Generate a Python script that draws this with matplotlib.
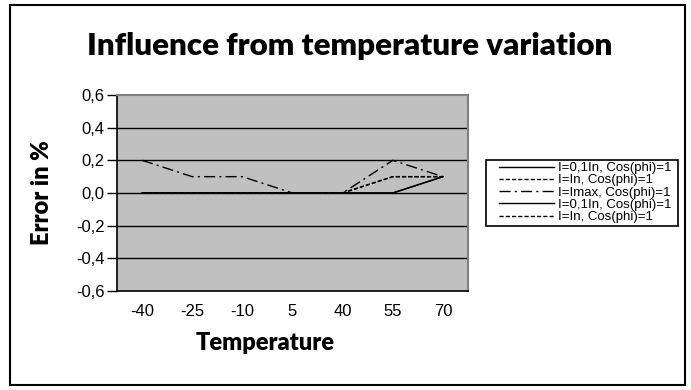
import numpy as np
import matplotlib
matplotlib.use('Agg')
import matplotlib.pyplot as plt
from matplotlib.patches import Rectangle

# Data
temperatures = ['-40', '-25', '-10', '5', '40', '55', '70']
labels = ['I=0,1In, Cos(phi)=1', 'I=In, Cos(phi)=1', 'I=Imax, Cos(phi)=1',
          'I=0,1In, Cos(phi)=1', 'I=In, Cos(phi)=1']
err_01in = [0.0, 0.0, 0.0, 0.0, 0.0, 0.0, 0.1]
err_in = [0.0, 0.0, 0.0, 0.0, 0.0, 0.1, 0.1]
err_imax = [0.2, 0.1, 0.1, 0.0, 0.0, 0.2, 0.1]
err_01in_b = [0.0, 0.0, 0.0, 0.0, 0.0, 0.0, 0.1]
err_in_b = [0.0, 0.0, 0.0, 0.0, 0.0, 0.1, 0.1]
yticks = [-0.6, -0.4, -0.2, 0.0, 0.2, 0.4, 0.6]

series = [err_01in, err_in, err_imax, err_01in_b, err_in_b]
styles = ['-', (0, (3, 1.5)), (0, (8, 3, 1.5, 3)), '-', (0, (3, 1.5))]

fig = plt.figure(figsize=(6.91, 3.90), dpi=100)
# outer chart border
fig.patches.append(Rectangle((10 / 691, 5 / 390), 675 / 691, 380 / 390,
                             transform=fig.transFigure, fill=False,
                             edgecolor='black', linewidth=1.5))

ax = fig.add_axes([117 / 691, 99 / 390, 351 / 691, 196 / 390])
ax.set_facecolor('#c0c0c0')
x = np.arange(len(temperatures))
for vals, ls, lab in zip(series, styles, labels):
    ax.plot(x, vals, color='black', linestyle=ls, linewidth=1, label=lab)

ax.set_xlim(-0.5, len(temperatures) - 0.5)
ax.set_ylim(-0.6, 0.6)
ax.set_yticks(yticks)
ax.set_yticklabels([('%.1f' % v).replace('.', ',') for v in yticks],
                   fontsize=12, family='Liberation Sans')
ax.set_xticks(x)
ax.set_xticklabels(temperatures, fontsize=12, family='Liberation Sans')
ax.tick_params(axis='x', length=0, pad=9)
ax.tick_params(axis='y', length=7, width=1, direction='out', pad=2)
for v in yticks[1:-1]:
    ax.axhline(v, color='black', linewidth=1, zorder=1)

for side in ['top', 'right']:
    ax.spines[side].set_color('#808080')
    ax.spines[side].set_linewidth(1.5)
for side in ['left', 'bottom']:
    ax.spines[side].set_color('black')
    ax.spines[side].set_linewidth(1.2)

ax.set_xlabel('Temperature', fontsize=17, fontweight='heavy', family='Lato')
ax.xaxis.set_label_coords((265 - 117) / 351, -52 / 196)
ax.xaxis.label.set_va('center')
ax.set_ylabel('Error in %', fontsize=17, fontweight='heavy', family='Lato')
ax.yaxis.set_label_coords((42 - 117) / 351, 0.5)
ax.yaxis.label.set_va('center')

fig.text(0.506, 1 - 46 / 390, 'Influence from temperature variation', ha='center',
         va='center', fontsize=22.5, fontweight='heavy', family='Lato')

# legend without its own frame; the box is drawn separately
leg = fig.legend(loc='upper left', bbox_to_anchor=(497 / 691, 1 - 160 / 390),
                 prop={'family': 'Liberation Sans', 'size': 9.5}, frameon=False,
                 handlelength=4.2, borderpad=0.15, labelspacing=0.0,
                 handletextpad=0.25, borderaxespad=0)
fig.patches.append(Rectangle((486 / 691, 1 - 226 / 390), 192 / 691, 66 / 390,
                             transform=fig.transFigure, fill=False,
                             edgecolor='black', linewidth=1.2))

fig.savefig('out.png', dpi=100)
